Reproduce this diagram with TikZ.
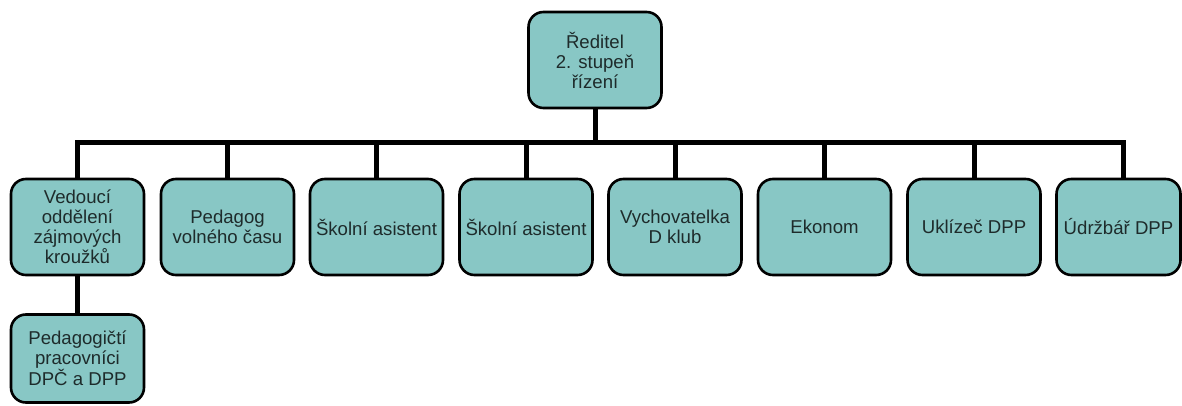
\documentclass[tikz,border=0pt]{standalone}
\usepackage{fontspec}
\setmainfont{Liberation Sans}
\definecolor{boxfill}{HTML}{88C7C5}
\definecolor{txt}{HTML}{1E2B2B}
\begin{document}
\begin{tikzpicture}[x=1pt,y=-1pt,
  box/.style={draw=black, line width=2.6pt, fill=boxfill, rounded corners=15pt,
    minimum width=133pt, minimum height=96pt, align=center, inner sep=0pt,
    font=\fontsize{18.6}{20}\selectfont, text=txt},
  link/.style={line width=5pt, line join=miter}]
\useasboundingbox (0,0) rectangle (1182,406);
\node[box] (root) at (595,60) {Ředitel\\2. stupeň\\řízení};
\node[box] (b1) at (77.5,227) {Vedoucí\\oddělení\\zájmových\\kroužků};
\node[box] (b2) at (227.5,227) {Pedagog\\volného času};
\node[box] (b3) at (376.5,227) {Školní asistent};
\node[box] (b4) at (526,227) {Školní asistent};
\node[box] (b5) at (675,227) {Vychovatelka\\D klub};
\node[box] (b6) at (824.5,227) {Ekonom};
\node[box] (b7) at (974,227) {Uklízeč DPP};
\node[box, minimum width=124pt] (b8) at (1118.5,227) {Údržbář DPP};
\node[box, minimum height=88pt] (sub) at (77.5,358.5) {Pedagogičtí\\pracovníci\\DPČ a DPP};
\coordinate (hb) at (595,143);
\coordinate (b8top) at ([xshift=4.5pt]b8.north);
\draw[link] (b1.north) |- (b8top |- hb) -- (b8top);
\draw[link] (root.south) -- (root.south |- hb);
\foreach \b in {b2,b3,b4,b5,b6,b7} {\draw[link] (\b.north) -- (\b.north |- hb);}
\draw[link] (b1.south) -- (sub.north);
\end{tikzpicture}
\end{document}
